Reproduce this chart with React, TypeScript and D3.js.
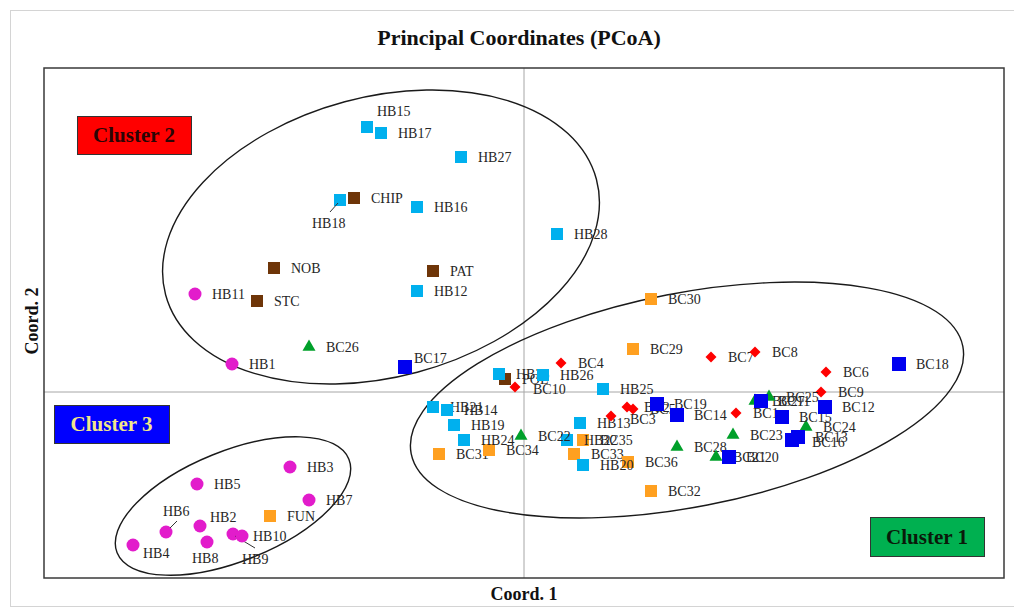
import * as d3 from "d3";

type Sample = [string, number, number];

// Coord. 1 / Coord. 2 scores
const orangeSamples: Sample[] = [
  ["FUN", -0.254, -0.124],
  ["BC30", 0.127, 0.093],
  ["BC29", 0.109, 0.043],
  ["BC31", -0.085, -0.062],
  ["BC34", -0.035, -0.058],
  ["BC35", 0.059, -0.048],
  ["BC33", 0.05, -0.062],
  ["BC36", 0.104, -0.07],
  ["BC32", 0.127, -0.099],
];

const brownSamples: Sample[] = [
  ["CHIP", -0.17, 0.194],
  ["NOB", -0.25, 0.124],
  ["PAT", -0.091, 0.121],
  ["STC", -0.267, 0.091],
  ["POL", -0.019, 0.013],
];

const cyanSamples: Sample[] = [
  ["HB15", -0.157, 0.265],
  ["HB17", -0.143, 0.259],
  ["HB27", -0.063, 0.235],
  ["HB18", -0.184, 0.192],
  ["HB16", -0.107, 0.185],
  ["HB28", 0.033, 0.158],
  ["HB12", -0.107, 0.101],
  ["HB33", -0.025, 0.018],
  ["HB26", 0.019, 0.017],
  ["HB25", 0.079, 0.003],
  ["HB21", -0.091, -0.015],
  ["HB14", -0.077, -0.018],
  ["HB19", -0.07, -0.033],
  ["HB24", -0.06, -0.048],
  ["HB13", 0.056, -0.031],
  ["HB22", 0.043, -0.048],
  ["HB20", 0.059, -0.073],
];

const magentaSamples: Sample[] = [
  ["HB11", -0.329, 0.098],
  ["HB1", -0.292, 0.028],
  ["HB3", -0.234, -0.075],
  ["HB5", -0.327, -0.092],
  ["HB7", -0.215, -0.108],
  ["HB6", -0.358, -0.14],
  ["HB2", -0.324, -0.134],
  ["HB8", -0.317, -0.15],
  ["HB9", -0.291, -0.142],
  ["HB10", -0.282, -0.144],
  ["HB4", -0.391, -0.153],
];

const redSamples: Sample[] = [
  ["BC4", 0.037, 0.029],
  ["BC10", -0.009, 0.005],
  ["BC7", 0.187, 0.035],
  ["BC8", 0.231, 0.04],
  ["BC6", 0.302, 0.02],
  ["BC9", 0.297, 0.0],
  ["BC3", 0.087, -0.024],
  ["BC2", 0.103, -0.015],
  ["BC5", 0.109, -0.017],
  ["BC1", 0.212, -0.021],
];

const greenSamples: Sample[] = [
  ["BC26", -0.215, 0.045],
  ["BC22", -0.003, -0.044],
  ["BC28", 0.153, -0.055],
  ["BC23", 0.209, -0.043],
  ["BC21", 0.192, -0.065],
  ["BC27", 0.231, -0.009],
  ["BC25", 0.245, -0.005],
  ["BC24", 0.282, -0.035],
];

const blueSamples: Sample[] = [
  ["BC17", -0.119, 0.025],
  ["BC18", 0.375, 0.028],
  ["BC19", 0.133, -0.012],
  ["BC14", 0.153, -0.023],
  ["BC11", 0.237, -0.009],
  ["BC15", 0.258, -0.025],
  ["BC12", 0.301, -0.015],
  ["BC16", 0.268, -0.048],
  ["BC13", 0.274, -0.045],
  ["BC20", 0.205, -0.065],
];

// cluster ellipses in data units (centre, radii) + tilt in degrees
const clusterEllipses = [
  { id: "c2", cx: -0.143, cy: 0.155, rx: 0.223, ry: 0.14, angle: -15 },
  { id: "c1", cx: 0.163, cy: -0.008, rx: 0.281, ry: 0.107, angle: -11 },
  { id: "c3", cx: -0.291, cy: -0.114, rx: 0.125, ry: 0.055, angle: -22 },
];

type Shape = "square" | "circle" | "diamond" | "triangle";

const seriesList: { id: string; data: Sample[]; shape: Shape; size: number; fill: string }[] = [
  { id: "orange", data: orangeSamples, shape: "square", size: 12, fill: "#ffa020" },
  { id: "brown", data: brownSamples, shape: "square", size: 12, fill: "#6e3508" },
  { id: "cyan", data: cyanSamples, shape: "square", size: 12, fill: "#00b0ee" },
  { id: "magenta", data: magentaSamples, shape: "circle", size: 13, fill: "#e21ccb" },
  { id: "red", data: redSamples, shape: "diamond", size: 11, fill: "#ff0000" },
  { id: "green", data: greenSamples, shape: "triangle", size: 13, fill: "#00a02a" },
  { id: "blue", data: blueSamples, shape: "square", size: 14, fill: "#0000f0" },
];

// labels that are not simply to the right of their marker
const labelOffset: Record<string, [number, number]> = {
  HB15: [10, -11],
  HB18: [-28, 28],
  BC17: [9, -4],
  HB6: [-3, -16],
  HB2: [10, -4],
  HB8: [-15, 21],
  HB9: [9, 30],
  HB4: [10, 13],
  HB10: [11, 5],
  BC10: [18, 7],
  BC3: [19, 8],
  BC16: [20, 7],
};

const leaderLines: Record<string, [number, number, number, number]> = {
  HB18: [-10, 12, -2, 3],
  HB6: [11, -11, 4, -4],
  HB9: [2, 2, 22, 14],
};

const W = 1014;
const H = 610;
const plot = { left: 44, right: 1004, top: 68, bottom: 578 };
const serif = "'Liberation Serif', 'Times New Roman', serif";

function markerPath(shape: Shape, size: number): string {
  if (shape === "circle") return d3.symbol(d3.symbolCircle, Math.PI * (size / 2) ** 2)() as string;
  if (shape === "triangle")
    return d3.symbol(d3.symbolTriangle, (size * size * Math.sqrt(3)) / 4)() as string;
  if (shape === "diamond") {
    const h = size / 2;
    return `M0,${-h}L${h},0L0,${h}L${-h},0Z`;
  }
  return d3.symbol(d3.symbolSquare, size * size)() as string;
}

export default function App() {
  const x = d3.scaleLinear().domain([-0.48, 0.48]).range([plot.left, plot.right]);
  const y = d3.scaleLinear().domain([-0.186, 0.324]).range([plot.bottom, plot.top]);
  const k = x(1) - x(0);

  const clusterBoxes = [
    { text: "Cluster 2", x: 77, y: 116, w: 114, h: 38, fill: "#ff0000", color: "#2a0505" },
    { text: "Cluster 3", x: 54, y: 405, w: 115, h: 38, fill: "#0000ff", color: "#f2e68a" },
    { text: "Cluster 1", x: 870, y: 517, w: 114, h: 39, fill: "#00b050", color: "#0a1a0a" },
  ];

  return (
    <div style={{ position: "fixed", left: 0, top: 0 }}>
      <svg width={W} height={H} style={{ display: "block", background: "#fff" }}>
        <rect x={10.5} y={10.5} width={1010} height={596} fill="none" stroke="#d4d4d4" />
        <text
          x={519}
          y={45}
          textAnchor="middle"
          fontFamily={serif}
          fontWeight="bold"
          fontSize={22}
          fill="#111"
        >
          Principal Coordinates (PCoA)
        </text>

        {/* zero lines */}
        <line x1={x(0)} x2={x(0)} y1={plot.top} y2={plot.bottom} stroke="#a6a6a6" strokeWidth={1} />
        <line x1={plot.left} x2={plot.right} y1={y(0)} y2={y(0)} stroke="#a6a6a6" strokeWidth={1} />

        {clusterEllipses.map((e) => (
          <ellipse
            key={e.id}
            cx={0}
            cy={0}
            rx={e.rx * k}
            ry={e.ry * k}
            transform={`translate(${x(e.cx)},${y(e.cy)}) rotate(${e.angle})`}
            fill="none"
            stroke="#1a1a1a"
            strokeWidth={1.4}
          />
        ))}

        {seriesList.map((s) => (
          <g key={s.id}>
            {s.data.map(([name, cx, cy]) => {
              const px = x(cx);
              const py = y(cy);
              const [dx, dy] = labelOffset[name] ?? [17, 5];
              const leader = leaderLines[name];
              return (
                <g key={name}>
                  <path d={markerPath(s.shape, s.size)} transform={`translate(${px},${py})`} fill={s.fill} />
                  {leader && (
                    <line
                      x1={px + leader[0]}
                      y1={py + leader[1]}
                      x2={px + leader[2]}
                      y2={py + leader[3]}
                      stroke="#333"
                      strokeWidth={1}
                    />
                  )}
                  <text x={px + dx} y={py + dy} fontFamily={serif} fontSize={14} fill="#262626">
                    {name}
                  </text>
                </g>
              );
            })}
          </g>
        ))}

        {clusterBoxes.map((b) => (
          <g key={b.text}>
            <rect x={b.x + 0.5} y={b.y + 0.5} width={b.w} height={b.h} fill={b.fill} stroke="#333" strokeWidth={1} />
            <text
              x={b.x + b.w / 2}
              y={b.y + b.h / 2 + 7}
              textAnchor="middle"
              fontFamily={serif}
              fontWeight="bold"
              fontSize={21}
              fill={b.color}
            >
              {b.text}
            </text>
          </g>
        ))}

        <rect
          x={plot.left}
          y={plot.top}
          width={plot.right - plot.left}
          height={plot.bottom - plot.top}
          fill="none"
          stroke="#3a3a3a"
          strokeWidth={1.5}
        />

        <text x={524} y={600} textAnchor="middle" fontFamily={serif} fontWeight="bold" fontSize={18} fill="#111">
          Coord. 1
        </text>
        <text
          transform="translate(38,321) rotate(-90)"
          textAnchor="middle"
          fontFamily={serif}
          fontWeight="bold"
          fontSize={18}
          fill="#111"
        >
          Coord. 2
        </text>
      </svg>
    </div>
  );
}
